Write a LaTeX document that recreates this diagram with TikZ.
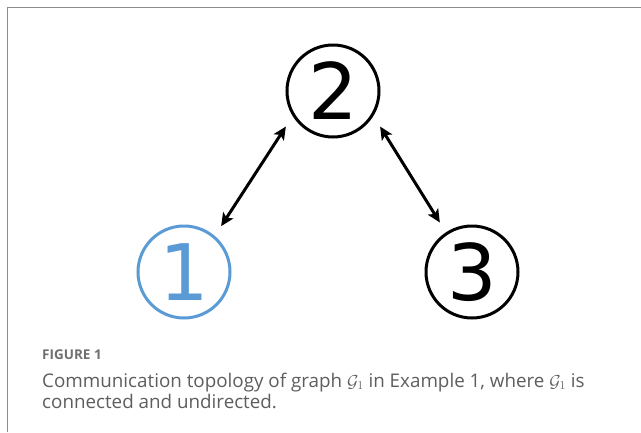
\documentclass[tikz,border=0pt]{standalone}
\usepackage{fontspec}
\setmainfont{Open Sans}
\newfontfamily\digitfont{DejaVu Sans}
\usetikzlibrary{arrows.meta}
\definecolor{nodeblue}{HTML}{5B9BD5}
\definecolor{captiongray}{HTML}{5E5E5E}
\definecolor{labelgray}{HTML}{707070}
\definecolor{framegray}{HTML}{8C8C8C}
\begin{document}
\begin{tikzpicture}[x=1pt,y=-1pt,
  vertex/.style={circle, draw, line width=3pt, minimum size=92pt, inner sep=0pt, outer sep=13pt,
    font=\digitfont\fontsize{78}{78}\selectfont},
  link/.style={line width=3pt, {Stealth[length=13pt,width=12pt,inset=3pt]}-{Stealth[length=13pt,width=12pt,inset=3pt]}},
  figlabel/.style={anchor=base west, inner sep=0pt, text=labelgray, font=\bfseries\fontsize{13.5}{16}\selectfont},
  captext/.style={anchor=base west, inner sep=0pt, text=captiongray, align=left, font=\fontsize{18.8}{21.5}\selectfont}]
\useasboundingbox (0,0) rectangle (641,432);
\fill[white] (0,0) rectangle (641,432);
\draw[framegray, line width=1.5pt] (7.5,432) -- (7.5,7.5) -- (641,7.5);
\node[vertex] (n2) at (333,91) {2};
\node[vertex, draw=nodeblue, text=nodeblue] (n1) at (184,272) {1};
\node[vertex] (n3) at (472,272) {3};
\draw[link] (n1.51) -- (n2.217);
\draw[link] (n2.-37) -- (n3.123);
\node[figlabel] (fl) at (42,359) {FIGURE 1};
\node[captext] (cap) at (42,408.5) {Communication topology of graph $\mathcal{G}_1$ in Example 1, where $\mathcal{G}_1$ is\\connected and undirected.};
\end{tikzpicture}
\end{document}
